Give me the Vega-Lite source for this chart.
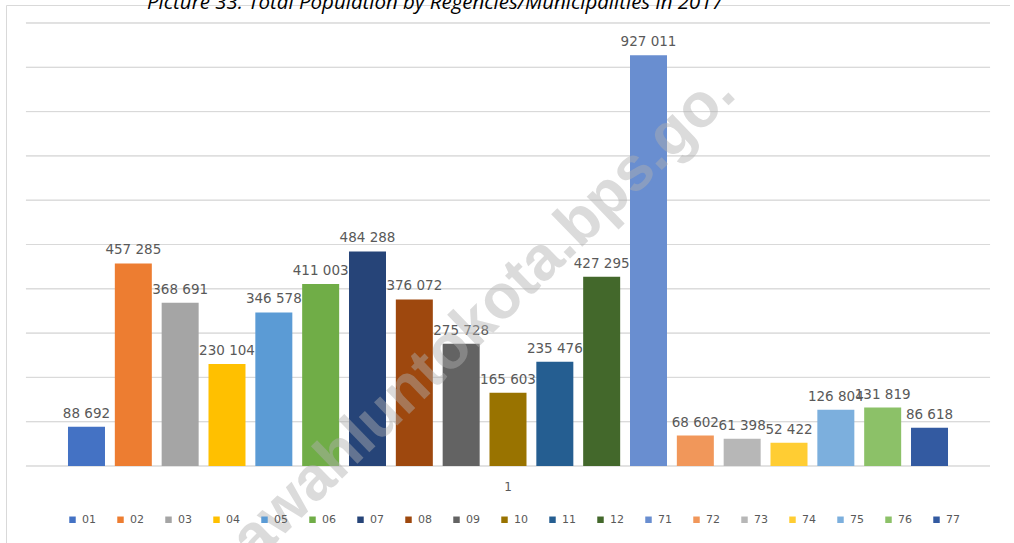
{
  "$schema": "https://vega.github.io/schema/vega-lite/v6.json",
  "width": 1004,
  "height": 548,
  "autosize": {"type": "none"},
  "padding": {"left": 6, "top": 5, "right": 0, "bottom": 0},
  "background": "white",
  "title": {
    "text": "Picture 33. Total Population by Regencies/Municipalities in 2017",
    "anchor": "start",
    "frame": "group",
    "dx": 141,
    "dy": 8,
    "offset": 0,
    "font": "Open Sans",
    "fontStyle": "italic",
    "fontWeight": "normal",
    "fontSize": 20.5,
    "color": "#000000"
  },
  "config": {
    "view": {"stroke": "#d9d9d9", "strokeWidth": 1},
    "locale": {"number": {"decimal": ".", "thousands": " ", "grouping": [3], "currency": ["", ""]}}
  },
  "data": {
    "values": [
      {"cat": "1", "code": "01", "pop": 88692},
      {"cat": "1", "code": "02", "pop": 457285},
      {"cat": "1", "code": "03", "pop": 368691},
      {"cat": "1", "code": "04", "pop": 230104},
      {"cat": "1", "code": "05", "pop": 346578},
      {"cat": "1", "code": "06", "pop": 411003},
      {"cat": "1", "code": "07", "pop": 484288},
      {"cat": "1", "code": "08", "pop": 376072},
      {"cat": "1", "code": "09", "pop": 275728},
      {"cat": "1", "code": "10", "pop": 165603},
      {"cat": "1", "code": "11", "pop": 235476},
      {"cat": "1", "code": "12", "pop": 427295},
      {"cat": "1", "code": "71", "pop": 927011},
      {"cat": "1", "code": "72", "pop": 68602},
      {"cat": "1", "code": "73", "pop": 61398},
      {"cat": "1", "code": "74", "pop": 52422},
      {"cat": "1", "code": "75", "pop": 126804},
      {"cat": "1", "code": "76", "pop": 131819},
      {"cat": "1", "code": "77", "pop": 86618}
    ]
  },
  "layer": [
    {
      "data": {"values": [
        {"g": 0}, {"g": 100000}, {"g": 200000}, {"g": 300000}, {"g": 400000}, {"g": 500000},
        {"g": 600000}, {"g": 700000}, {"g": 800000}, {"g": 900000}, {"g": 1000000}
      ]},
      "mark": {"type": "rect", "fill": "transparent", "stroke": "#d9d9d9", "strokeWidth": 1},
      "encoding": {
        "x": {"datum": "1", "type": "nominal", "scale": {"type": "band", "paddingInner": 0, "paddingOuter": 0.0207},
              "axis": {"title": null, "ticks": false, "domain": false, "grid": false, "offset": -74, "labelPadding": 2, "labelColor": "#595959", "labelFont": "DejaVu Sans", "labelFontSize": 12, "labelAngle": 0}},
        "y": {"field": "g", "type": "quantitative", "scale": {"domain": [-196388, 1040632], "nice": false, "zero": false}, "axis": null},
        "y2": {"field": "g"}
      }
    },
    {
      "mark": {"type": "bar"},
      "encoding": {
        "x": {"field": "cat", "type": "nominal", "scale": {"type": "band", "paddingInner": 0, "paddingOuter": 0.0207},
              "axis": {"title": null, "ticks": false, "domain": false, "grid": false, "offset": -74, "labelPadding": 2, "labelColor": "#595959", "labelFont": "DejaVu Sans", "labelFontSize": 12, "labelAngle": 0}},
        "xOffset": {"field": "code", "type": "nominal", "scale": {"paddingInner": 0.21, "paddingOuter": 0.8975}},
        "y": {"field": "pop", "type": "quantitative", "stack": null, "scale": {"domain": [-196388, 1040632], "nice": false, "zero": false}, "axis": null},
        "color": {
          "field": "code", "type": "nominal",
          "scale": {
            "domain": ["01","02","03","04","05","06","07","08","09","10","11","12","71","72","73","74","75","76","77"],
            "range": ["#4472C4","#ED7D31","#A5A5A5","#FFC000","#5B9BD5","#70AD47","#264478","#9E480E","#636363","#997300","#255E91","#43682B","#698ED0","#F1975A","#B7B7B7","#FFCD33","#7CAFDD","#8CC168","#335AA1"]
          },
          "legend": {
            "title": null, "orient": "none", "legendX": 61, "legendY": 509, "direction": "horizontal", "columns": 19,
            "symbolType": "square", "symbolSize": 42, "symbolStrokeWidth": 0,
            "labelFont": "DejaVu Sans", "labelFontSize": 11, "labelColor": "#595959", "labelOffset": 4,
            "columnPadding": 19, "padding": 0
          }
        }
      }
    },
    {
      "mark": {"type": "text", "baseline": "alphabetic", "dy": -9, "font": "DejaVu Sans", "fontSize": 13.5, "fill": "#595959"},
      "encoding": {
        "x": {"field": "cat", "type": "nominal", "scale": {"type": "band", "paddingInner": 0, "paddingOuter": 0.0207},
              "axis": {"title": null, "ticks": false, "domain": false, "grid": false, "offset": -74, "labelPadding": 2, "labelColor": "#595959", "labelFont": "DejaVu Sans", "labelFontSize": 12, "labelAngle": 0}},
        "xOffset": {"field": "code", "type": "nominal", "scale": {"paddingInner": 0.21, "paddingOuter": 0.8975}},
        "y": {"field": "pop", "type": "quantitative", "scale": {"domain": [-196388, 1040632], "nice": false, "zero": false}, "axis": null},
        "text": {"field": "pop", "type": "quantitative", "format": ",d"}
      }
    },
    {
      "data": {"values": [{"wm": "sawahluntokota.bps.go."}]},
      "mark": {"type": "text", "align": "center", "baseline": "middle", "angle": -44, "dx": -46, "dy": -6, "font": "Liberation Sans", "fontWeight": "bold", "fontSize": 62, "fill": "#b0b0b0", "opacity": 0.45},
      "encoding": {
        "x": {"datum": "1", "type": "nominal", "scale": {"type": "band", "paddingInner": 0, "paddingOuter": 0.0207},
              "axis": {"title": null, "ticks": false, "domain": false, "grid": false, "offset": -74, "labelPadding": 2, "labelColor": "#595959", "labelFont": "DejaVu Sans", "labelFontSize": 12, "labelAngle": 0}},
        "y": {"datum": 374000, "type": "quantitative", "scale": {"domain": [-196388, 1040632], "nice": false, "zero": false}, "axis": null},
        "text": {"field": "wm", "type": "nominal"}
      }
    }
  ]
}
